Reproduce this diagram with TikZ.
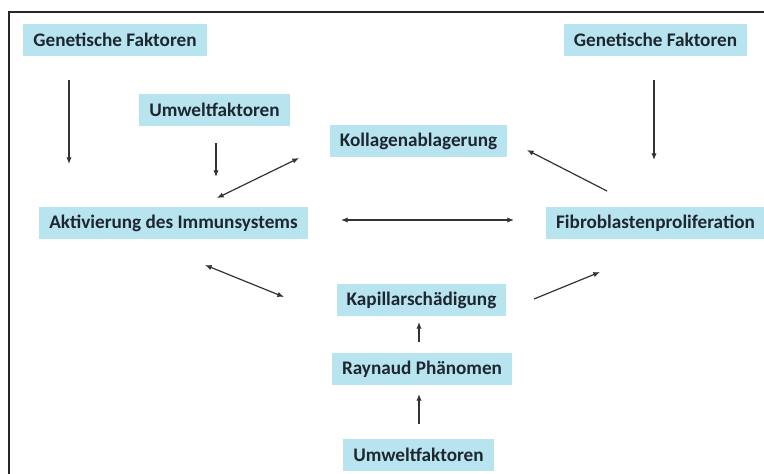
\documentclass[tikz,border=0pt]{standalone}
\usepackage{fontspec}
\setmainfont{Carlito}
\usepackage{tikz}
\usetikzlibrary{arrows.meta,calc}
\definecolor{boxblau}{HTML}{B7E4EE}
\definecolor{textgrau}{HTML}{1E2630}
\definecolor{pfeilgrau}{HTML}{333333}

\begin{document}
\begin{tikzpicture}[x=0.75pt,y=-0.75pt,
    >={Latex[length=5pt,width=4pt]},
    kasten/.style={fill=boxblau,text=textgrau,inner xsep=7.5pt,minimum height=24pt,
      font=\fontsize{14.4}{17}\selectfont\bfseries},
    pfeil/.style={->,pfeilgrau,line width=0.9pt}]
  \useasboundingbox (0,0) rectangle (764,474);
  % Rahmen
  \draw[line width=1.2pt,black!85] (9,474) -- (9,12) -- (764,12);

  % Kaesten
  \node[kasten] (genL)  at (115,40)    {Genetische Faktoren};
  \node[kasten] (umwT)  at (214.5,110) {Umweltfaktoren};
  \node[kasten] (koll)  at (418.5,141) {Kollagenablagerung};
  \node[kasten] (akt)   at (173.5,223) {Aktivierung des Immunsystems};
  \node[kasten] (genR)  at (655.5,40)  {Genetische Faktoren};
  \node[kasten] (fibro) at (655.5,223) {Fibroblastenproliferation};
  \node[kasten] (kap)   at (421.5,300) {Kapillarschädigung};
  \node[kasten] (ray)   at (422,369)   {Raynaud Phänomen};
  \node[kasten] (umwB)  at (418.5,454.5) {Umweltfaktoren};

  % Pfeile
  \draw[pfeil] ($(genL)+(-46,40)$) -- ($(akt)+(-104.5,-59)$);
  \draw[pfeil] ($(umwT)+(1.5,33)$) -- ($(akt)+(42.5,-46)$);
  \draw[pfeil,<->] ($(akt)+(43.5,-25)$) -- ($(koll)+(-119.5,17)$);
  \draw[pfeil,<->] ($(akt)+(167.5,-3)$) -- ($(fibro)+(-141.5,-3)$);
  \draw[pfeil] ($(fibro)+(-48.5,-32)$) -- ($(koll)+(108.5,9)$);
  \draw[pfeil] ($(genR)+(-1.5,40)$) -- ($(fibro)+(-1.5,-63)$);
  \draw[pfeil,<->] ($(akt)+(31.5,42)$) -- ($(kap)+(-137.5,-3)$);
  \draw[pfeil] ($(kap)+(112.5,-1)$) -- ($(fibro)+(-55.5,49)$);
  \draw[pfeil] ($(ray)+(-3,-27)$) -- ($(kap)+(-2.5,22)$);
  \draw[pfeil] ($(umwB)+(0.5,-30.5)$) -- ($(ray)+(-3,25)$);
\end{tikzpicture}
\end{document}
